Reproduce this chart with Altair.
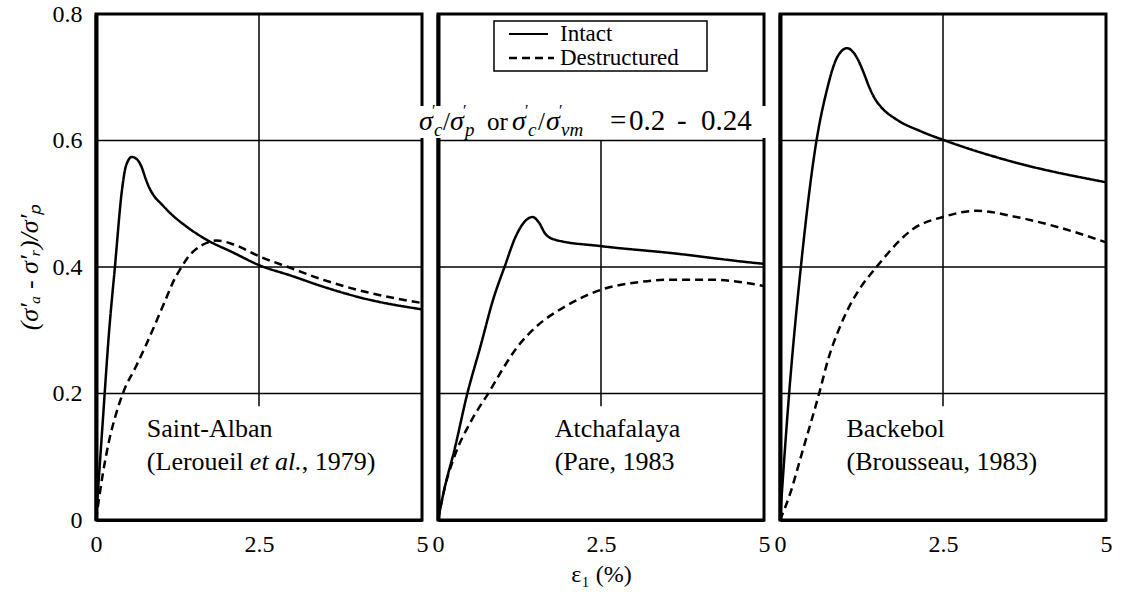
import altair as alt
import pandas as pd

# ---------------- data ----------------
SERIES = ["Intact", "Destructured"]
X_TICKS = [0, 2.5, 5]
Y_TICKS = [0, 0.2, 0.4, 0.6, 0.8]
GRID_Y = [0.2, 0.4, 0.6]
GRID_X = [2.5]

site_names = ["Saint-Alban", "Atchafalaya", "Backebol"]
site_refs = [["(Leroueil ", "et al.", ", 1979)"], ["(Pare, 1983"], ["(Brousseau, 1983)"]]

# Saint-Alban
sa_intact_x = [0, 0.1, 0.2, 0.29, 0.4, 0.46, 0.55, 0.63, 0.7, 0.76, 0.81, 0.9, 1.0, 1.11, 1.4, 1.68, 2.1, 2.5, 3.0, 3.45, 4.16, 5.0]
sa_intact_y = [0, 0.15, 0.297, 0.4, 0.523, 0.56, 0.574, 0.57, 0.558, 0.54, 0.527, 0.511, 0.5, 0.488, 0.463, 0.444, 0.423, 0.403, 0.386, 0.37, 0.349, 0.333]
sa_destr_x = [0, 0.1, 0.2, 0.3, 0.43, 0.6, 0.76, 1.07, 1.2, 1.3, 1.4, 1.52, 1.72, 1.85, 2.1, 2.5, 3.0, 3.45, 4.16, 5.0]
sa_destr_y = [0, 0.07, 0.125, 0.165, 0.205, 0.24, 0.275, 0.349, 0.38, 0.398, 0.414, 0.427, 0.439, 0.442, 0.436, 0.417, 0.398, 0.381, 0.36, 0.343]

# Atchafalaya
at_intact_x = [0, 0.1, 0.25, 0.45, 0.65, 0.85, 1.02, 1.2, 1.35, 1.45, 1.55, 1.65, 1.8, 2.5, 3.58, 4.9, 5.0]
at_intact_y = [0, 0.05, 0.11, 0.2, 0.274, 0.35, 0.4, 0.45, 0.474, 0.479, 0.47, 0.452, 0.443, 0.433, 0.422, 0.406, 0.405]
at_destr_x = [0, 0.1, 0.25, 0.5, 0.8, 1.0, 1.22, 1.5, 1.94, 2.5, 3.07, 3.6, 4.1, 4.5, 5.0]
at_destr_y = [0, 0.05, 0.1, 0.155, 0.205, 0.24, 0.274, 0.305, 0.337, 0.364, 0.376, 0.38, 0.38, 0.378, 0.37]

# Backebol
bk_intact_x = [0, 0.14, 0.32, 0.56, 0.71, 0.86, 0.95, 1.03, 1.12, 1.2, 1.28, 1.37, 1.45, 1.55, 1.79, 2.15, 2.53, 3.58, 5.0]
bk_intact_y = [0, 0.2, 0.4, 0.6, 0.676, 0.728, 0.742, 0.746, 0.74, 0.727, 0.708, 0.684, 0.667, 0.653, 0.633, 0.615, 0.6, 0.566, 0.534]
bk_destr_x = [0, 0.15, 0.34, 0.6, 0.75, 0.91, 1.05, 1.2, 1.48, 2.04, 2.53, 3.02, 3.58, 4.3, 5.0]
bk_destr_y = [0, 0.04, 0.107, 0.2, 0.258, 0.303, 0.335, 0.362, 0.4, 0.46, 0.48, 0.489, 0.48, 0.462, 0.439]

# ---------------- layout / style ----------------
FONT = "Liberation Serif"
W, H = 326, 506
SITE_TEXT_X = [0.78, 1.79, 1.02]
SITE_TEXT_Y = [0.144, 0.092]
REF_PART_DX = [[0, 103, 155], [0], [0]]
REF_PART_STYLE = [["normal", "italic", "normal"], ["normal"], ["normal"]]
VGRID_TOP = [0.8, 0.6, 0.8]

XS = alt.Scale(domain=[0, 5], nice=False, zero=False)
YS = alt.Scale(domain=[0, 0.8], nice=False)


def curves_df(xi, yi, xd, yd):
    return pd.DataFrame({
        "strain": xi + xd,
        "ratio": yi + yd,
        "series": [SERIES[0]] * len(xi) + [SERIES[1]] * len(xd),
    })


def pixel_text(txt, px, py, size, style="normal", align="left", baseline="alphabetic"):
    return alt.Chart(pd.DataFrame({"t": [txt]})).mark_text(
        align=align, baseline=baseline, font=FONT, fontSize=size, fontStyle=style, color="black"
    ).encode(text="t:N", x=alt.value(px), y=alt.value(py))


def panel(i, df):
    first, middle = i == 0, i == 1
    x_axis = alt.Axis(values=X_TICKS, format=".1~f", grid=False, ticks=False, labelPadding=12,
                      labelFontSize=24, domainWidth=3, labelFlush=False,
                      title="ε₁ (%)" if middle else None, titleFontSize=24, titlePadding=6,
                      titleFontWeight="normal")
    if first:
        y_axis = alt.Axis(values=Y_TICKS, format=".1~f", grid=False, ticks=False, labelPadding=14,
                          labelFontSize=24, domainWidth=4, title="(σ′ₐ - σ′ᵣ)/σ′ₚ",
                          titleFontStyle="italic", titleFontSize=26, titlePadding=10,
                          titleFontWeight="normal")
    else:
        y_axis = alt.Axis(values=Y_TICKS, labels=False, ticks=False, grid=False, domainWidth=4, title=None)

    def X(field):
        return alt.X(field, scale=XS, axis=x_axis)

    def Y(field):
        return alt.Y(field, scale=YS, axis=y_axis)

    layers = []
    lines = alt.Chart(df).mark_line(color="black", strokeWidth=2.5, interpolate="monotone").encode(
        x=X("strain:Q"),
        y=Y("ratio:Q"),
        strokeDash=alt.StrokeDash("series:N", scale=alt.Scale(domain=SERIES, range=[[1, 0], [8, 5]]), legend=None),
    )
    hgrid = alt.Chart(pd.DataFrame({"ratio": GRID_Y})).mark_rule(color="black", strokeWidth=1.5).encode(
        y=Y("ratio:Q"))
    vgrid = alt.Chart(pd.DataFrame({"strain": GRID_X, "ratio": [0.18], "hi": [VGRID_TOP[i]]})).mark_rule(
        color="black", strokeWidth=1.5).encode(x=X("strain:Q"), y=Y("ratio:Q"), y2="hi:Q")
    layers += [hgrid, vgrid, lines]

    # site name and reference
    name = alt.Chart(pd.DataFrame({"strain": [SITE_TEXT_X[i]], "ratio": [SITE_TEXT_Y[0]], "t": [site_names[i]]})).mark_text(
        align="left", baseline="middle", font=FONT, fontSize=26, color="black").encode(
        x=X("strain:Q"), y=Y("ratio:Q"), text="t:N")
    layers.append(name)
    for part, dx, st in zip(site_refs[i], REF_PART_DX[i], REF_PART_STYLE[i]):
        layers.append(alt.Chart(pd.DataFrame({"strain": [SITE_TEXT_X[i]], "ratio": [SITE_TEXT_Y[1]], "t": [part]})).mark_text(
            align="left", baseline="middle", font=FONT, fontSize=26, fontStyle=st, dx=dx, color="black").encode(
            x=X("strain:Q"), y=Y("ratio:Q"), text="t:N"))

    if middle:
        # legend box
        layers.append(alt.Chart(pd.DataFrame({"a": [0]})).mark_rect(fill="white", stroke="black", strokeWidth=1.5).encode(
            x=alt.value(56), x2=alt.value(269), y=alt.value(7), y2=alt.value(57)))
        layers.append(alt.Chart(pd.DataFrame({"a": [0]})).mark_rule(color="black", strokeWidth=2).encode(
            x=alt.value(71), x2=alt.value(110), y=alt.value(20)))
        layers.append(alt.Chart(pd.DataFrame({"a": [0]})).mark_rule(color="black", strokeWidth=2.5, strokeDash=[8, 5]).encode(
            x=alt.value(71), x2=alt.value(116), y=alt.value(44)))
        layers.append(pixel_text(SERIES[0], 122, 20, 23, baseline="middle"))
        layers.append(pixel_text(SERIES[1], 122, 44, 23, baseline="middle"))
        # annotation with white backing
        layers.append(alt.Chart(pd.DataFrame({"a": [0]})).mark_rect(fill="white").encode(
            x=alt.value(-22), x2=alt.value(340), y=alt.value(92), y2=alt.value(124)))
        x0, base = -19, 116
        pieces = [
            ("σ", 0, 0, 28, "italic"), ("′", 13, -14, 16, "normal"), ("c", 15, 6, 19, "italic"),
            ("/", 24, 0, 25, "normal"),
            ("σ", 31, 0, 28, "italic"), ("′", 44, -14, 16, "normal"), ("p", 46, 6, 19, "italic"),
            ("or", 68, 0, 25, "normal"),
            ("σ", 93, 0, 28, "italic"), ("′", 106, -14, 16, "normal"), ("c", 109, 6, 19, "italic"),
            ("/", 119, 0, 25, "normal"),
            ("σ", 127, 0, 28, "italic"), ("′", 140, -14, 16, "normal"), ("vm", 142, 6, 19, "italic"),
            ("=", 191, 0, 29, "normal"), ("0.2", 210, 0, 29, "normal"), ("-", 258, 0, 29, "normal"),
            ("0.24", 282, 0, 29, "normal"),
        ]
        for t, dx, dy, sz, st in pieces:
            layers.append(pixel_text(t, x0 + dx, base + dy, sz, style=st))

    return alt.layer(*layers).properties(width=W, height=H)


dfs = [
    curves_df(sa_intact_x, sa_intact_y, sa_destr_x, sa_destr_y),
    curves_df(at_intact_x, at_intact_y, at_destr_x, at_destr_y),
    curves_df(bk_intact_x, bk_intact_y, bk_destr_x, bk_destr_y),
]

chart = alt.hconcat(*[panel(i, d) for i, d in enumerate(dfs)], spacing=16, bounds="flush").properties(
    padding={"left": 14, "top": 0, "right": 5, "bottom": 0},
    background="white",
).configure_view(stroke="black", strokeWidth=3).configure_axis(
    labelFont=FONT, titleFont=FONT, labelColor="black", titleColor="black", domainColor="black"
)

chart.save("out.html", embed_options={"renderer": "svg", "actions": False})
